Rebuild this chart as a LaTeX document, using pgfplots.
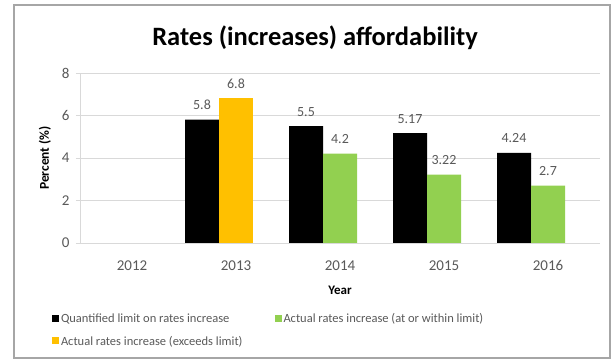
\documentclass[border=0pt]{standalone}
\usepackage{pgfplots}
\pgfplotsset{compat=1.18}
\usepackage{fontspec}
\setmainfont{Carlito}
\definecolor{xlorange}{HTML}{FFC000}
\definecolor{xlgreen}{HTML}{92D050}
\definecolor{txtgray}{HTML}{595959}
\definecolor{gridgray}{HTML}{D9D9D9}
\definecolor{framegray}{HTML}{A6A6A6}
\begin{document}
\begin{tikzpicture}[x=1pt,y=1pt]
\path (0,0) rectangle (616,363);
\draw[framegray, line width=1.2pt] (14,5) rectangle (610,358);
\node[anchor=base, font=\fontsize{26.5}{30}\selectfont\bfseries] at (315,317) {Rates (increases) affordability};
\begin{axis}[
  at={(80pt,120pt)}, anchor=south west,
  scale only axis, width=520pt, height=170pt,
  xmin=-0.5, xmax=4.5, ymin=0, ymax=8,
  ytick={0,2,4,6,8},
  xtick={0,1,2,3,4},
  xticklabels={2012,2013,2014,2015,2016},
  ymajorgrids, grid style={gridgray, line width=0.8pt},
  axis line style={draw=gridgray, line width=0.8pt},
  axis x line*=bottom, axis y line*=left,
  x axis line style={-}, y axis line style={-},
  tick style={gridgray, line width=0.8pt},
  xtick style={draw=none},
  major tick length=4pt, tick align=outside,
  /pgf/number format/assume math mode=true,
  tick label style={font=\fontsize{15}{17}\selectfont, text=txtgray},
  yticklabel style={xshift=-3pt},
  xticklabel style={anchor=base, yshift=-24pt},
  ylabel={Percent (\%)}, ylabel style={font=\fontsize{13.5}{15}\selectfont\bfseries, at={(ticklabel cs:0.5)}, yshift=4pt},
  xlabel={Year}, xlabel style={font=\fontsize{13}{15}\selectfont\bfseries, anchor=base, at={(axis description cs:0.5,0)}, yshift=-52pt},
  ybar, bar width=34pt,
  nodes near coords,
  every node near coord/.append style={font=\fontsize{14}{16}\selectfont, text=txtgray, anchor=base, yshift=10pt},
  legend columns=2,
  legend cell align=left,
  legend style={at={(-0.06,-0.39)}, anchor=north west, draw=none, fill=none,
    font=\fontsize{12.5}{14}\selectfont, text=txtgray, row sep=8pt,
    /tikz/every even column/.append style={column sep=30pt}},
  legend image code/.code={\fill[#1] (0pt,-3pt) rectangle (7pt,4pt);},
]
\addplot[fill=black, draw=none, bar shift=-34pt] coordinates {(1,5.8) (2,5.5) (3,5.17) (4,4.24)};
\addlegendentry{Quantified limit on rates increase}
\addplot[fill=xlgreen, draw=none, bar shift=0pt] coordinates {(2,4.2) (3,3.22) (4,2.7)};
\addlegendentry{Actual rates increase (at or within limit)}
\addplot[fill=xlorange, draw=none, bar shift=0pt] coordinates {(1,6.8)};
\addlegendentry{Actual rates increase (exceeds limit)}
\end{axis}
\end{tikzpicture}
\end{document}
